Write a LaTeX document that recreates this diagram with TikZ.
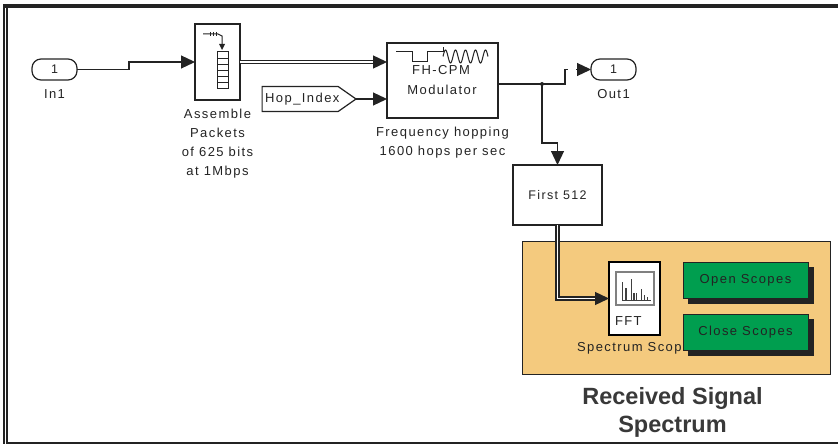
\documentclass[tikz,border=0pt]{standalone}
\usepackage{fontspec}
\setmainfont{Liberation Sans}
\newfontfamily\spacedfont[LetterSpace=11]{Liberation Sans}
\usepackage{xcolor}
\usetikzlibrary{arrows.meta, positioning, shapes.symbols, shadows}
\definecolor{panelorange}{RGB}{244,202,126}
\definecolor{buttongreen}{RGB}{0,158,79}
\definecolor{inkgray}{RGB}{35,35,35}

\begin{document}
\begin{tikzpicture}[
    x=1pt, y=-1pt,
    port/.style={draw=inkgray, rectangle, rounded corners=9pt, line width=1.2pt, outer sep=0pt, minimum width=45pt, minimum height=21pt, inner sep=0pt, font=\spacedfont\fontsize{12.5}{14}\selectfont, text=inkgray},
    blockbox/.style={draw=inkgray, rectangle, line width=1.2pt, outer sep=0pt, inner sep=0pt, align=center, font=\spacedfont\fontsize{12.5}{19}\selectfont, text=inkgray},
    caption/.style={align=center, inner sep=0pt, outer sep=0pt, font=\spacedfont\fontsize{13}{19}\selectfont, text=inkgray},
    button/.style={draw=inkgray, rectangle, fill=buttongreen, line width=1pt, outer sep=0pt, inner sep=0pt, minimum width=125pt, minimum height=36pt, font=\spacedfont\fontsize{13}{15}\selectfont, text=inkgray, copy shadow={shadow xshift=5pt, shadow yshift=-5pt, fill=inkgray, draw=inkgray}},
    arrow/.style={-{Triangle[length=14pt, width=13pt]}, line width=1.2pt, draw=inkgray},
    busarrow/.style={-{Triangle[length=14pt, width=13pt]}, line width=1.3pt, draw=inkgray, double=white, double distance=1.6pt},
    wire/.style={line width=1.2pt, draw=inkgray}
]
\useasboundingbox (0,0) rectangle (838,444);

% outer frame
\fill[inkgray] (3,4) rectangle (5.3,444);
\fill[inkgray] (6,4) rectangle (8,444);
\fill[inkgray] (3,4) rectangle (838,8);
\fill[inkgray] (6,441.5) rectangle (838,444);

\node (in1) [port] at (54.5,69.5) {1};
\node (in1label) [caption, below=10pt of in1] {In1};

\node (assemble) [blockbox, minimum width=45pt, minimum height=76pt, right=118pt of in1, yshift=7.5pt] {};
\node (assemblelabel) [caption, below=9pt of assemble] {Assemble\\Packets\\of 625 bits\\at 1Mbps};

\node (modulator) [blockbox, minimum width=111pt, minimum height=75pt, right=147pt of assemble, yshift=-18.5pt] {};
\node (fhcpm) [caption] at (441,70) {FH-CPM};
\node (modtext) [caption] at (442,90) {Modulator};
\node (modlabel) [caption, below=9pt of modulator] {Frequency hopping\\1600 hops per sec};

\node (hopindex) [draw=inkgray, line width=1.2pt, signal, signal to=east, signal pointer angle=70, outer sep=0pt, inner sep=0pt, minimum height=25pt, text width=76pt, font=\spacedfont\fontsize{13}{15}\selectfont, text=inkgray, left=31pt of modulator, yshift=-18.5pt] {\hspace{3pt}\makebox[0pt][l]{Hop\_Index}};

\node (out1) [port, right=93pt of modulator, yshift=11pt] {1};
\node (out1label) [caption, below=9pt of out1] {Out1};

\node (first) [blockbox, minimum width=89pt, minimum height=60pt, below right=47pt and 15pt of modulator] {First 512};

\node (panel) [draw=inkgray, fill=panelorange, line width=1pt, minimum width=308pt, minimum height=133pt, outer sep=0pt, inner sep=0pt] at (676,307.5) {};
\node (scopelabel) [caption, anchor=west] at (577,348) {Spectrum Scop};
\node (scope) [draw=black, fill=white, line width=2.5pt, minimum width=51pt, minimum height=73pt, outer sep=0pt, inner sep=0pt] at (634.5,298.5) {};
\node (fft) [caption, anchor=west] at (615,321) {FFT};
\node (screen) [draw=gray, fill=white, line width=1.2pt, minimum width=38pt, minimum height=33pt, outer sep=0pt, inner sep=0pt] at (635,288.5) {};
\node (openbtn) [button] at (745.5,280) {Open Scopes};
\node (closebtn) [button] at (745.5,332) {Close Scopes};

\node (title) [align=center, inner sep=0pt, font=\fontsize{23.5}{28}\selectfont\bfseries, text=inkgray!90] at (672.5,412.5) {Received Signal\\Spectrum};

% connectors
\coordinate (kink) at (129,69.5);
\draw[arrow] (in1.east) -- (kink) |- (assemble.west);
\draw[busarrow] (assemble.east) -- (assemble.east -| modulator.west);
\draw[arrow] (hopindex.east) -- (hopindex.east -| modulator.west);

\coordinate (split) at (542,84);
\coordinate (rise) at (565,84);
\coordinate (stub) at (568,69.5);
\coordinate (gap) at (576,69.5);
\coordinate (bend) at (542,143);
\draw[wire] (modulator.east |- split) -- (rise) |- (stub);
\draw[arrow] (gap) -- (out1.west);
\fill[inkgray] (split) circle (2pt);
\draw[arrow] (split) -- (bend) -| (first.north);

\coordinate (busbend) at (first.south |- scope.west);
\draw[busarrow] (first.south) -- (busbend) -- (scope.west);

% block icons
\draw[line width=1pt, inkgray] (203,34) -- (218,34) -- (222,36) -- (222,45);
\foreach \tickx in {210,213,216}
    \draw[line width=.8pt, inkgray] (\tickx,32) -- (\tickx,36);
\fill[inkgray] (219,44) -- (225,44) -- (222,50) -- cycle;
\draw[line width=1pt, inkgray] (217,52) rectangle (228,88);
\foreach \stacky in {58,64,70,76,82}
    \draw[line width=.8pt, inkgray] (217,\stacky) -- (228,\stacky);

\draw[line width=1pt, inkgray] (396,52) -- (412,52) -- (412,62) -- (427,62) -- (427,52) -- (443,52) -- (443,47);
\draw[line width=1pt, inkgray] plot[domain=0:45, samples=90, smooth] ({443+\x},{56.5-6.5*sin(\x*36)});

\foreach \barx/\bartop in {622.7/281.7, 626/288.3, 631.3/279.3, 634/292.7, 636.7/292.7, 641.3/289.3, 644.7/295, 647.3/297.3}
    \draw[line width=1.2pt, gray!50!black] (\barx,300) -- (\barx,\bartop);
\draw[line width=.8pt, gray!50!black] (622,300.5) -- (651,300.5);

\end{tikzpicture}
\end{document}
